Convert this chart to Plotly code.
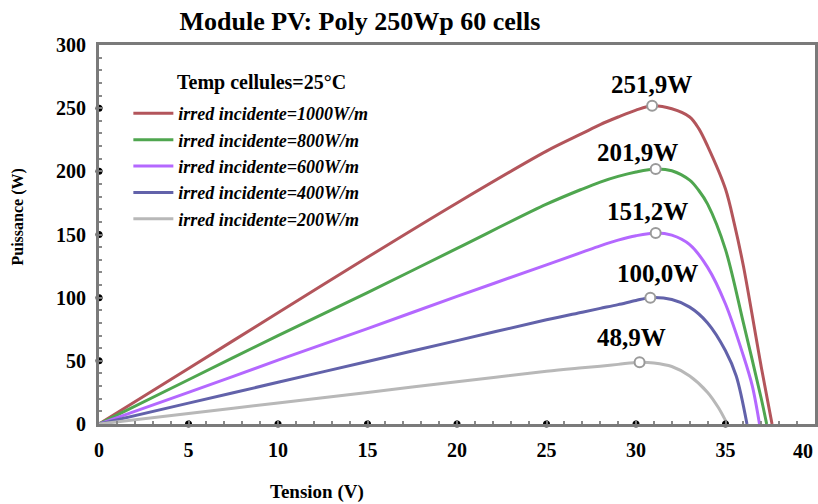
import plotly.graph_objects as go

# ---------------- data ----------------
irradiances = ["1000", "800", "600", "400", "200"]

v_1000 = [0, 5, 10, 15, 20, 25, 27, 28, 29, 30, 30.9, 32, 33, 33.5, 34, 35, 35.5, 36, 37, 37.6]
p_1000 = [0, 44, 88, 132, 175, 216, 230, 237, 243, 248.5, 251.9, 249.5, 243, 234, 220, 186, 158, 125, 45, 0]

v_800 = [0, 5, 10, 15, 20, 25, 27, 28, 29, 30, 31.1, 32, 33, 33.5, 34, 35, 36, 37, 37.3]
p_800 = [0, 35, 70, 104, 139, 174, 186, 191.5, 196, 199.5, 201.9, 200.5, 193, 185, 174, 138, 80, 20, 0]

v_600 = [0, 5, 10, 15, 20, 25, 27, 28, 29, 30, 31.1, 32, 33, 34, 35, 36, 36.5, 36.9]
p_600 = [0, 25, 50.5, 75.5, 101, 126, 136, 141, 145.5, 149, 151.2, 149.5, 142, 124, 95, 54, 30, 0]

v_400 = [0, 5, 10, 15, 20, 25, 27, 28, 29, 30, 30.8, 32, 33, 34, 35, 35.6, 36.2]
p_400 = [0, 16.5, 33, 49.5, 66, 82.5, 88.5, 91.5, 94.5, 97.8, 100, 98.5, 92.5, 80, 58, 38, 0]

v_200 = [0, 5, 10, 15, 20, 25, 27, 28, 29, 30.2, 31, 32, 33, 34, 34.6, 35.1]
p_200 = [0, 8.4, 16.7, 25, 33.4, 41.8, 44.5, 45.8, 47.2, 48.9, 48.3, 45.5, 38, 25, 13, 0]

peak_v = [30.9, 31.1, 31.1, 30.8, 30.2]
peak_p = [251.9, 201.9, 151.2, 100.0, 48.9]
peak_labels = ["251,9W", "201,9W", "151,2W", "100,0W", "48,9W"]

x_ticks = [0, 5, 10, 15, 20, 25, 30, 35, 40]
y_ticks = [0, 50, 100, 150, 200, 250, 300]
x_dot_ticks = [5, 10, 15, 20, 25, 30, 35]
y_dot_ticks = [50, 100, 150, 200, 250]

# ---------------- styles ----------------
colors = ["#b3555b", "#4fa64f", "#b468ff", "#6262aa", "#b8b8b8"]
label_shift = [(-1, 21), (-18, 16), (-8, 21), (7, 24), (-8, 25)]
SERIF = "Liberation Serif, Times New Roman, serif"

series_v = [v_1000, v_800, v_600, v_400, v_200]
series_p = [p_1000, p_800, p_600, p_400, p_200]

fig = go.Figure()

for name, vv, pp, col in zip(irradiances, series_v, series_p, colors):
    fig.add_trace(go.Scatter(
        x=vv, y=pp, mode="lines",
        line=dict(color=col, width=3, shape="spline", smoothing=0.9),
        name=f"<b><i>irred incidente={name}W/m</i></b>",
    ))

# peak markers
fig.add_trace(go.Scatter(
    x=peak_v, y=peak_p, mode="markers",
    marker=dict(symbol="circle", size=10, color="white",
                line=dict(color="#9a9a9a", width=2)),
    showlegend=False, hoverinfo="skip",
))

# black dots on axes (as in reference)
fig.add_trace(go.Scatter(
    x=x_dot_ticks, y=[0] * len(x_dot_ticks), mode="markers",
    marker=dict(color="black", size=7), showlegend=False,
    cliponaxis=False, hoverinfo="skip",
))
fig.add_trace(go.Scatter(
    x=[0] * len(y_dot_ticks), y=y_dot_ticks, mode="markers",
    marker=dict(color="black", size=7), showlegend=False,
    cliponaxis=False, hoverinfo="skip",
))

for v, p, txt, (dx, dy) in zip(peak_v, peak_p, peak_labels, label_shift):
    fig.add_annotation(
        x=v, y=p, text=f"<b>{txt}</b>", showarrow=False,
        xshift=dx, yshift=dy, yanchor="middle", xanchor="center",
        font=dict(family=SERIF, size=25, color="black"),
    )

# legend heading
fig.add_annotation(
    xref="paper", yref="paper", x=0.106, y=0.902,
    xanchor="left", yanchor="middle", showarrow=False,
    text="<b>Temp cellules=25°C</b>",
    font=dict(family=SERIF, size=20, color="black"),
)

# axis titles
fig.add_annotation(
    xref="paper", yref="paper", x=0.304, y=-0.18,
    xanchor="center", yanchor="middle", showarrow=False,
    text="<b>Tension (V)</b>", font=dict(family=SERIF, size=19, color="black"),
)
fig.add_annotation(
    xref="paper", yref="paper", x=-0.113, y=0.545,
    xanchor="center", yanchor="middle", showarrow=False, textangle=-90,
    text="<b>Puissance (W)</b>", font=dict(family=SERIF, size=16, color="black"),
)

# last x tick label sits at the right edge of the page: keep it inside
x_ticktext = [f"<b>{t}</b>" for t in x_ticks]
x_ticktext[-1] = ""
fig.add_annotation(
    xref="paper", yref="paper", x=1.0, y=0, yshift=-27,
    xanchor="right", yanchor="middle", showarrow=False,
    text=f"<b>{x_ticks[-1]}</b>",
    font=dict(family=SERIF, size=20, color="black"),
)

axis_common = dict(
    showline=True, linecolor="#7a7a7a", linewidth=3, mirror=True,
    showgrid=False, zeroline=False, automargin=False,
    ticks="inside", ticklen=4, tickcolor="#7a7a7a", tickwidth=2,
    tickfont=dict(family=SERIF, size=20, color="black"),
)

fig.update_xaxes(
    range=[0, 40], tickvals=x_ticks, ticktext=x_ticktext,
    minor=dict(dtick=1, ticks="inside", ticklen=3, tickcolor="#8a8a8a"),
    ticklabelstandoff=6,
    **axis_common,
)
fig.update_yaxes(
    range=[0, 300], tickvals=y_ticks, ticktext=[f"<b>{t}</b>" for t in y_ticks],
    minor=dict(dtick=10, ticks="inside", ticklen=3, tickcolor="#8a8a8a"),
    ticklabelstandoff=6,
    **axis_common,
)

fig.update_layout(
    width=818, height=504,
    margin=dict(l=99, r=3, t=45, b=80),
    paper_bgcolor="white", plot_bgcolor="white",
    title=dict(
        text="<b>Module PV: Poly 250Wp 60 cells</b>",
        xref="container", yref="container", x=0.44, y=0.958,
        xanchor="center", yanchor="middle",
        font=dict(family=SERIF, size=26, color="black"),
    ),
    legend=dict(
        x=0.041, y=0.868, xanchor="left", yanchor="top",
        bgcolor="rgba(0,0,0,0)", borderwidth=0,
        font=dict(family=SERIF, size=18, color="black"),
        tracegroupgap=0, itemwidth=40,
    ),
    showlegend=True,
)

fig.write_html("out.html")
